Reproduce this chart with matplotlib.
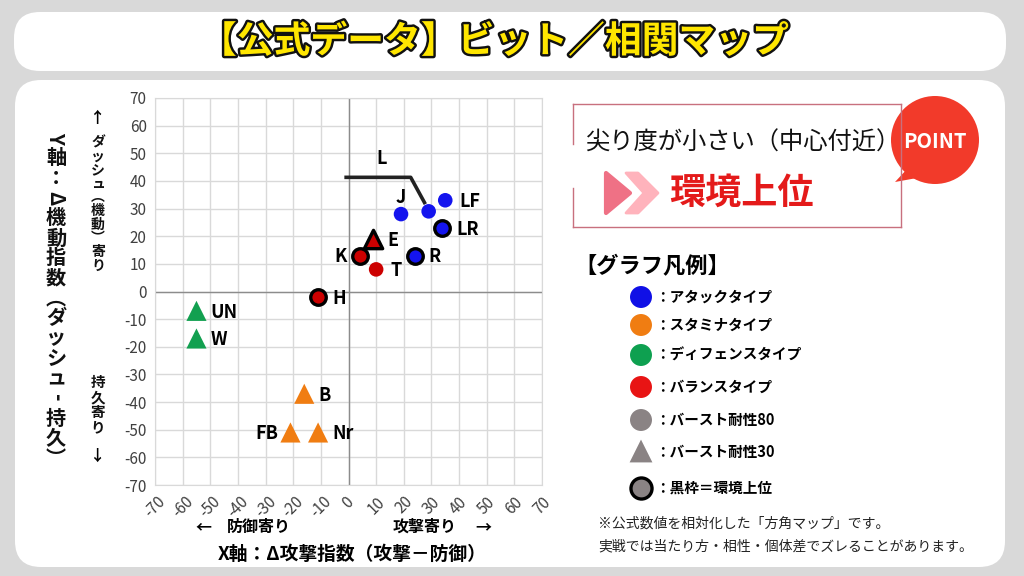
import matplotlib
matplotlib.use('Agg')
import matplotlib.pyplot as plt
from matplotlib.patches import FancyBboxPatch, Circle, Polygon
from matplotlib.lines import Line2D
import matplotlib.patheffects as pe

plt.rcParams['font.family'] = ['Noto Sans CJK JP', 'DejaVu Sans']

# ---------------- data ----------------
names = ['J', 'L', 'LF', 'LR', 'R', 'E', 'K', 'T', 'H', 'UN', 'W', 'B', 'FB', 'Nr']
x_attack = [19, 29, 35, 34, 24, 9, 4, 10, -11, -55, -55, -16, -21, -11]
y_dash = [28, 29, 33, 23, 13, 19, 13, 8, -2, -7, -17, -37, -51, -51]
bit_type = ['attack'] * 5 + ['balance'] * 4 + ['defense'] * 2 + ['stamina'] * 3
burst = [80, 80, 80, 80, 80, 30, 80, 80, 80, 30, 30, 30, 30, 30]
top_tier = [False, False, False, True, True, True, True, False, True,
            False, False, False, False, False]
label_side = ['above', 'leader', 'right', 'right', 'right', 'right', 'left',
              'right', 'right', 'right', 'right', 'right', 'left', 'right']
ticks = list(range(-70, 80, 10))

legend_labels = ['：アタックタイプ', '：スタミナタイプ', '：ディフェンスタイプ',
                 '：バランスタイプ', '：バースト耐性80', '：バースト耐性30', '：黒枠＝環境上位']

# ---------------- styles ----------------
point_colors = {'attack': '#1414EE', 'balance': '#CC0000',
                'defense': '#12A050', 'stamina': '#F07D12'}
legend_colors = ['#1010E6', '#F07D12', '#0EA050', '#E81414']
GREY = '#8A8384'

W, H = 1024, 576
fig = plt.figure(figsize=(W / 100, H / 100), dpi=100, facecolor='#D9D9D9')

bg = fig.add_axes([0, 0, 1, 1])
bg.set_xlim(0, W)
bg.set_ylim(H, 0)
bg.axis('off')
bg.set_facecolor('none')

# title box & main panel
bg.add_patch(FancyBboxPatch((14, 12), 992, 59, boxstyle='round,pad=0,rounding_size=26',
                            fc='white', ec='none'))
bg.add_patch(FancyBboxPatch((15, 80), 990, 487, boxstyle='round,pad=0,rounding_size=26',
                            fc='white', ec='none'))

bg.text(494, 42, '【公式データ】ビット／相関マップ', ha='center', va='center',
        fontsize=26.5, fontweight='bold', color='#FFE600',
        path_effects=[pe.Stroke(linewidth=3.5, foreground='#111111'), pe.Normal()])

# ---------------- main scatter axes ----------------
ax = fig.add_axes([155 / W, 1 - 485 / H, 387 / W, 387 / H])
ax.set_xlim(-70, 70)
ax.set_ylim(-70, 70)
ax.set_xticks(ticks)
ax.set_yticks(ticks)
ax.grid(True, color='#D9D9D9', lw=1)
ax.set_axisbelow(True)
for s in ax.spines.values():
    s.set_color('#D9D9D9')
ax.axhline(0, color='#8C8C8C', lw=1, zorder=1)
ax.axvline(0, color='#8C8C8C', lw=1, zorder=1)
ax.tick_params(length=0, labelsize=11, labelcolor='#404040', pad=6)
ax.set_xticklabels([str(t) for t in ticks], rotation=45, ha='center')
ax.set_yticklabels([str(t) for t in ticks])

for i, nm in enumerate(names):
    c = point_colors[bit_type[i]]
    marker = 'o' if burst[i] == 80 else '^'
    if marker == 'o':
        s = 125 if top_tier[i] else 110
    else:
        s = 175 if top_tier[i] else 210
    ec = 'black' if top_tier[i] else 'none'
    lw = 2.4 if top_tier[i] else 0
    ax.scatter(x_attack[i], y_dash[i], s=s, marker=marker, c=c, edgecolors=ec,
               linewidths=lw, zorder=3)
    side = label_side[i]
    if side == 'right':
        ax.annotate(nm, (x_attack[i], y_dash[i]), xytext=(10, -1), textcoords='offset points',
                    ha='left', va='center', fontsize=13, fontweight='bold', zorder=4)
    elif side == 'left':
        ax.annotate(nm, (x_attack[i], y_dash[i]), xytext=(-9, -1), textcoords='offset points',
                    ha='right', va='center', fontsize=13, fontweight='bold', zorder=4)
    elif side == 'above':
        ax.annotate(nm, (x_attack[i], y_dash[i]), xytext=(0, 12), textcoords='offset points',
                    ha='center', va='center', fontsize=13, fontweight='bold', zorder=4)
    else:  # leader line
        px, py = x_attack[i], y_dash[i]
        ax.plot([px - 1.2, px - 6.5, px - 30.5], [py + 2.6, py + 12.3, py + 12.3],
                color='#222222', lw=2.6, solid_capstyle='butt', zorder=2)
        ax.text(px - 17, py + 15.5, nm, ha='center', va='bottom', fontsize=13,
                fontweight='bold', zorder=4)

# ---------------- axis titles ----------------
def vtext(x, y0, text, step, size, rot=''):
    y = y0
    for ch in text:
        if ch != ' ':
            bg.text(x, y, ch, ha='center', va='center', fontsize=size, fontweight='bold',
                    rotation=-90 if ch in rot else 0, color='#111111')
        y += step

vtext(56, 138, 'Y軸：Δ機動指数︵ダッシュ-持久︶', 20, 14.5, rot='YΔ-')
bg.text(98, 118, '↑', ha='center', va='center', fontsize=11, fontweight='bold')
vtext(98, 143, 'ダッシュ︵機動︶寄り', 13.6, 10)
vtext(98, 382, '持久寄り', 15, 10.5)
bg.text(98, 456, '↓', ha='center', va='center', fontsize=11, fontweight='bold')

bg.text(203, 527, '←', ha='center', va='center', fontsize=11.5, fontweight='bold')
bg.text(227, 527, '防御寄り', ha='left', va='center', fontsize=11.5, fontweight='bold')
bg.text(457, 527, '攻撃寄り', ha='right', va='center', fontsize=11.5, fontweight='bold')
bg.text(483, 527, '→', ha='center', va='center', fontsize=11.5, fontweight='bold')
bg.text(352, 554, 'X軸：Δ攻撃指数（攻撃－防御）', ha='center', va='center',
        fontsize=13.5, fontweight='bold')

# ---------------- POINT box ----------------
bc = '#C8707E'
bg.add_line(Line2D([573, 901], [104, 104], color=bc, lw=1))
bg.add_line(Line2D([573, 901], [227, 227], color=bc, lw=1))
bg.add_line(Line2D([901, 901], [104, 227], color=bc, lw=1))
bg.add_line(Line2D([573, 573], [104, 144], color=bc, lw=1))
bg.add_line(Line2D([573, 573], [188, 227], color=bc, lw=1))
bg.text(585, 143, '尖り度が小さい（中心付近）', ha='left', va='center', fontsize=17.5,
        color='#111111')
bg.add_patch(Polygon([(606, 173), (606, 213), (630, 193)], closed=True, fc='#EF7185',
                     ec='#EF7185', lw=3, joinstyle='round'))
bg.add_patch(Polygon([(626, 173), (638, 173), (658, 193), (638, 213), (626, 213), (644, 193)],
                     closed=True, fc='#FFB3BC', ec='#FFB3BC', lw=2, joinstyle='round'))
bg.text(669, 193, '環境上位', ha='left', va='center', fontsize=26, fontweight='bold',
        color='#E41A1A')

bg.add_patch(Polygon([(908, 168), (895, 182), (928, 176)], closed=True, fc='#F23A2A', ec='none'))
bg.add_patch(Circle((935, 140), 44, fc='#F23A2A', ec='none'))
bg.text(935, 142, 'POINT', ha='center', va='center', fontsize=14.5, fontweight='bold',
        color='white')

# ---------------- legend ----------------
bg.text(574, 267, '【グラフ凡例】', ha='left', va='center', fontsize=16, fontweight='bold')
leg_y = [297, 325, 355, 387, 420, 452, 488]
for k, lab in enumerate(legend_labels):
    if k < 4:
        bg.scatter(641, leg_y[k], s=250, marker='o', c=legend_colors[k], edgecolors='none')
    elif k == 4:
        bg.scatter(641, leg_y[k], s=250, marker='o', c=GREY, edgecolors='none')
    elif k == 5:
        bg.scatter(641, leg_y[k] - 1, s=270, marker='^', c=GREY, edgecolors='none')
    else:
        bg.scatter(641, leg_y[k], s=230, marker='o', c=GREY, edgecolors='black', linewidths=2.4)
    bg.text(655, leg_y[k], lab, ha='left', va='center', fontsize=10.5, fontweight='bold')

# ---------------- footnote ----------------
bg.text(598, 524, '※公式数値を相対化した「方角マップ」です。', ha='left', va='center',
        fontsize=10, color='#222222')
bg.text(598, 546, '実戦では当たり方・相性・個体差でズレることがあります。', ha='left',
        va='center', fontsize=10, color='#222222')

fig.savefig('out.png', dpi=100, facecolor=fig.get_facecolor())
